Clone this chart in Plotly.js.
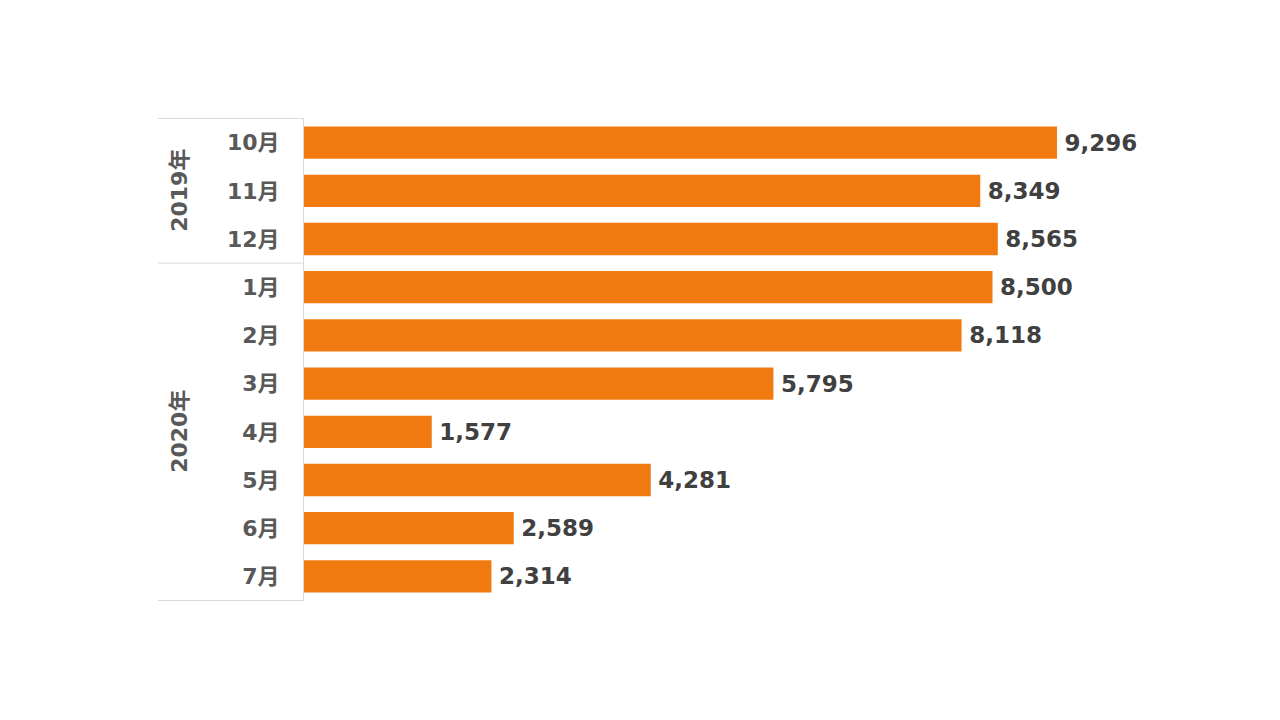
<!DOCTYPE html>
<html lang="ja">
<head>
    <meta charset="UTF-8">
    <script src="https://cdn.plot.ly/plotly-3.0.1.min.js"></script>
    <title>月別推移</title>
    <style>
        body { margin: 0; background: #fff; }
        #chart { width: 1280px; height: 720px; }
    </style>
</head>
<body>
    <div id="chart"></div>
    <script>
        // data
        var months = ['10月', '11月', '12月', '1月', '2月', '3月', '4月', '5月', '6月', '7月']
        var values = [9296, 8349, 8565, 8500, 8118, 5795, 1577, 4281, 2589, 2314]
        var years = ['2019年', '2020年']
        var yearStart = [0, 3]   // index of first month in each year
        var yearEnd = [2, 9]

        var plotLeft = 304
        var plotWidth = 891
        var fontFamily = '"DejaVu Sans", "Noto Sans CJK JP", sans-serif'

        function px2paper(px) {
            return (px - plotLeft) / plotWidth
        }

        var annotations = []
        var shapes = []
        for (var i = 0; i < years.length; i++) {
            annotations.push({
                text: years[i],
                xref: 'paper', yref: 'y',
                x: px2paper(180), y: (yearStart[i] + yearEnd[i]) / 2,
                xanchor: 'center', yanchor: 'middle',
                textangle: -90,
                showarrow: false,
                font: { family: fontFamily, size: 22, color: '#595959', weight: 'bold' }
            })
            shapes.push({
                type: 'line', xref: 'paper', yref: 'y',
                x0: px2paper(158), x1: 0,
                y0: yearStart[i] - 0.5, y1: yearStart[i] - 0.5,
                line: { color: '#d9d9d9', width: 1 }
            })
        }
        shapes.push({
            type: 'line', xref: 'paper', yref: 'y',
            x0: px2paper(158), x1: 0,
            y0: yearEnd[yearEnd.length - 1] + 0.5, y1: yearEnd[yearEnd.length - 1] + 0.5,
            line: { color: '#d9d9d9', width: 1 }
        })

        var trace = {
            type: 'bar',
            orientation: 'h',
            y: months,
            x: values,
            marker: { color: '#F07A10' },
            text: values.map(function(v) { return '\u2009' + v.toLocaleString('en-US') }),
            textposition: 'outside',
            cliponaxis: false,
            textfont: { family: fontFamily, size: 23, color: '#404040', weight: 'bold' },
            hoverinfo: 'none'
        }

        var layout = {
            width: 1280,
            height: 720,
            margin: { l: plotLeft, r: 1280 - plotLeft - plotWidth, t: 118, b: 119 },
            paper_bgcolor: '#ffffff',
            plot_bgcolor: '#ffffff',
            showlegend: false,
            bargap: 0.33,
            xaxis: {
                range: [0, 11000],
                showgrid: false,
                zeroline: false,
                showticklabels: false,
                showline: false
            },
            yaxis: {
                type: 'category',
                autorange: 'reversed',
                showgrid: false,
                zeroline: false,
                showline: true,
                linecolor: '#d9d9d9',
                linewidth: 1,
                ticks: 'outside',
                ticklen: 19,
                tickcolor: 'rgba(0,0,0,0)',
                tickfont: { family: fontFamily, size: 22, color: '#595959', weight: 'bold' }
            },
            annotations: annotations,
            shapes: shapes
        }

        Plotly.newPlot('chart', [trace], layout, { displayModeBar: false, staticPlot: true })
    </script>
</body>
</html>
